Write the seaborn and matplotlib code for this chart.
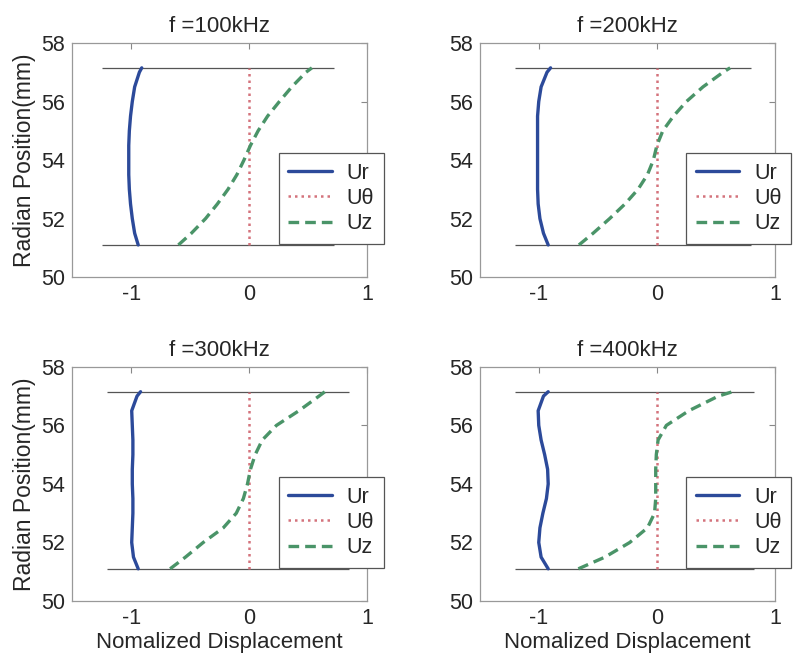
import numpy as np
import pandas as pd
import seaborn as sns
import matplotlib.pyplot as plt

# radial positions (mm) where the mode shapes are sampled
radius = [51.1, 51.5, 52.0, 52.5, 53.0, 53.5, 54.0, 54.5, 55.0, 55.5, 56.0, 56.5, 57.0, 57.15]

freqs = ['100kHz', '200kHz', '300kHz', '400kHz']

# normalized displacement
ur_100 = [-0.94, -0.97, -0.99, -1.005, -1.015, -1.02, -1.02, -1.02, -1.015, -1.005, -0.99, -0.97, -0.93, -0.91]
uz_100 = [-0.60, -0.49, -0.37, -0.27, -0.18, -0.105, -0.045, 0.01, 0.075, 0.155, 0.255, 0.36, 0.48, 0.53]
ur_200 = [-0.92, -0.96, -0.99, -1.005, -1.01, -1.01, -1.01, -1.01, -1.01, -1.01, -1.0, -0.98, -0.93, -0.90]
uz_200 = [-0.66, -0.54, -0.40, -0.27, -0.16, -0.08, -0.03, 0.0, 0.05, 0.14, 0.25, 0.39, 0.56, 0.62]
ur_300 = [-0.94, -0.98, -0.995, -0.99, -0.985, -0.985, -0.99, -0.99, -0.985, -0.985, -0.99, -0.995, -0.95, -0.92]
uz_300 = [-0.67, -0.54, -0.39, -0.22, -0.11, -0.05, -0.015, 0.01, 0.05, 0.11, 0.23, 0.42, 0.59, 0.64]
ur_400 = [-0.92, -0.98, -1.0, -0.99, -0.965, -0.935, -0.92, -0.925, -0.95, -0.98, -1.0, -1.005, -0.96, -0.92]
uz_400 = [-0.665, -0.44, -0.23, -0.08, -0.02, -0.01, -0.01, -0.01, -0.005, 0.01, 0.08, 0.27, 0.52, 0.64]
ut_all = [0.0] * len(radius)

ur_list = [ur_100, ur_200, ur_300, ur_400]
uz_list = [uz_100, uz_200, uz_300, uz_400]

# inner / outer surface of the pipe wall and the extent of the marker lines
r_inner = 51.1
r_outer = 57.15
wall_x0 = [-1.25, -1.2, -1.2, -1.2]
wall_x1 = [0.72, 0.8, 0.84, 0.82]

sns.set_style('white')
plt.rcParams['font.family'] = ['Liberation Sans', 'DejaVu Sans']
plt.rcParams['axes.unicode_minus'] = False

fig, axes = plt.subplots(2, 2, figsize=(8.04, 6.56), dpi=100)
plt.subplots_adjust(left=0.0896, right=0.964, top=0.9345, bottom=0.0838, wspace=0.38, hspace=0.383)

for i, ax in enumerate(axes.flat):
    df = pd.DataFrame({'r': radius, 'Ur': ur_list[i], 'Ut': ut_all, 'Uz': uz_list[i]})
    ax.hlines([r_inner, r_outer], wall_x0[i], wall_x1[i], color='#555555', lw=0.9)
    sns.lineplot(data=df, x='Ur', y='r', sort=False, orient='y', estimator=None, ax=ax,
                 color='#2c4a9a', lw=2.4, label='Ur')
    sns.lineplot(data=df, x='Ut', y='r', sort=False, orient='y', estimator=None, ax=ax,
                 color='#d4737c', lw=1.8, linestyle=(0, (1, 1.6)), label='U\u03b8')
    sns.lineplot(data=df, x='Uz', y='r', sort=False, orient='y', estimator=None, ax=ax,
                 color='#4a9468', lw=2.4, linestyle=(0, (3.2, 1.8)), label='Uz')

    ax.set_xlim(-1.5, 1)
    ax.set_ylim(50, 58)
    ax.set_xticks([-1, 0, 1])
    ax.set_yticks([50, 52, 54, 56, 58])
    ax.tick_params(direction='in', top=True, right=True, length=4, color='#888888',
                   labelsize=15.5, pad=5)
    for s in ax.spines.values():
        s.set_color('#999999')
        s.set_linewidth(0.9)
    ax.set_title('f =' + freqs[i], fontsize=16, pad=8)
    ax.set_xlabel('Nomalized Displacement' if i >= 2 else '', fontsize=16, labelpad=2)
    ax.set_ylabel('Radian Position(mm)' if i % 2 == 0 else '', fontsize=16.5, labelpad=4)

    leg = ax.legend(loc='upper left', bbox_to_anchor=(0.70, 0.53), borderaxespad=0,
                    fontsize=15.5, handlelength=2.0, handletextpad=0.7, labelspacing=0.2,
                    fancybox=False, framealpha=1, borderpad=0.45)
    leg.get_frame().set_edgecolor('#555555')
    leg.get_frame().set_linewidth(0.9)

plt.savefig('out.png', dpi=100)
